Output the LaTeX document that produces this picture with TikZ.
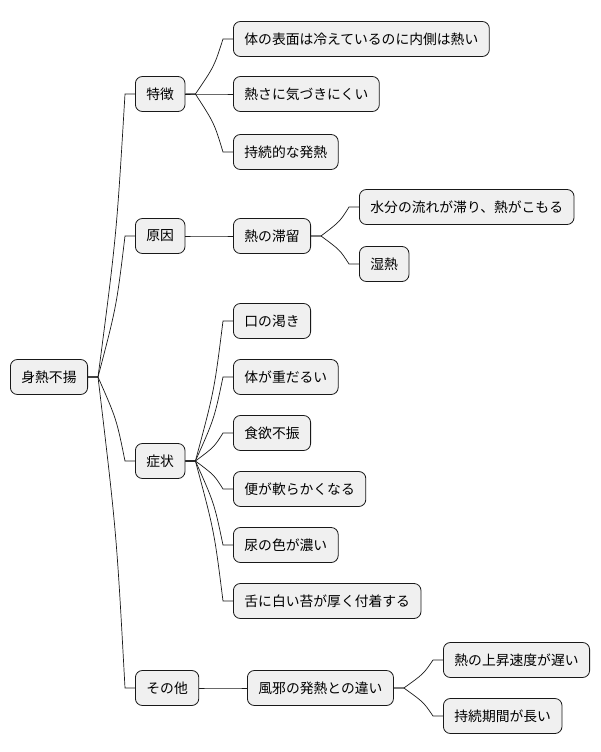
\documentclass[tikz,border=0pt]{standalone}
\usepackage{fontspec}
\setmainfont{Noto Sans CJK JP}
\usetikzlibrary{calc}
\begin{document}
\begin{tikzpicture}[x=1pt,y=-1pt,
  box/.style={draw=black!90,fill=black!6,rounded corners=7pt,line width=0.8pt,inner xsep=11pt,minimum height=35pt,anchor=west,font=\fontsize{13.8}{15}\selectfont},
  link/.style={line width=0.7pt,black!90}]
\useasboundingbox (0,0) rectangle (600,752);
\node[box] (root) at (10,377) {身熱不揚};
\node[box] (a) at (135,94) {特徴};
\node[box] (b) at (135,236) {原因};
\node[box] (c) at (135,461) {症状};
\node[box] (d) at (135,688) {その他};
\node[box] (a1) at (233,39) {体の表面は冷えているのに内側は熱い};
\node[box] (a2) at (233,94) {熱さに気づきにくい};
\node[box] (a3) at (233,152) {持続的な発熱};
\node[box] (b1) at (233,236) {熱の滞留};
\node[box] (b11) at (359,207) {水分の流れが滞り、熱がこもる};
\node[box] (b12) at (359,264) {湿熱};
\node[box] (c1) at (233,321) {口の渇き};
\node[box] (c2) at (233,377) {体が重だるい};
\node[box] (c3) at (233,433) {食欲不振};
\node[box] (c4) at (233,489) {便が軟らかくなる};
\node[box] (c5) at (233,545) {尿の色が濃い};
\node[box] (c6) at (233,601) {舌に白い苔が厚く付着する};
\node[box] (d1) at (247,688) {風邪の発熱との違い};
\node[box] (d11) at (443,660) {熱の上昇速度が遅い};
\node[box] (d12) at (443,716) {持続期間が長い};
\foreach \p/\c in {root/a,root/b,root/c,root/d,a/a1,a/a2,a/a3,b/b1,b1/b11,b1/b12,c/c1,c/c2,c/c3,c/c4,c/c5,c/c6,d/d1,d1/d11,d1/d12}{
  \draw[link] (\p.east) -- ++(10,0) coordinate (s)
    .. controls ($(s)!0.5!(\c.west)$ |- s) and ($(s)!0.5!(\c.west)$ |- \c.west) .. ($(\c.west)+(-10,0)$) -- (\c.west);
}
\end{tikzpicture}
\end{document}
